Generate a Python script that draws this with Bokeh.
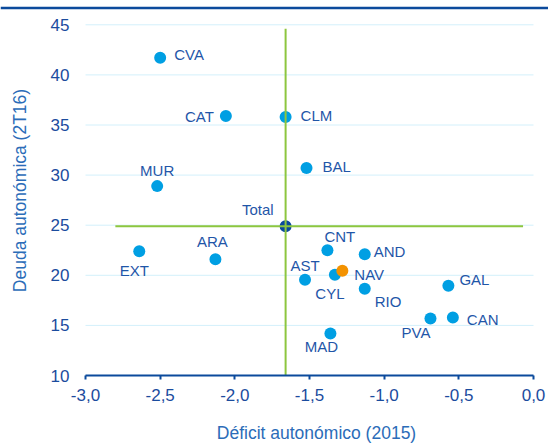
from bokeh.plotting import figure
from bokeh.models import (ColumnDataSource, FixedTicker, CustomJSTickFormatter,
                          Label, Span)
from bokeh.core.properties import value
from bokeh.embed import file_html
from bokeh.resources import INLINE
import math

# ---- data ----
regions = ["CVA", "CAT", "CLM", "BAL", "MUR", "EXT", "ARA", "AST", "MAD",
           "CNT", "AND", "CYL", "RIO", "GAL", "PVA", "CAN"]
deficit = [-2.50, -2.06, -1.66, -1.52, -2.52, -2.64, -2.13, -1.53, -1.36,
           -1.38, -1.13, -1.33, -1.13, -0.57, -0.69, -0.54]
deuda = [41.7, 35.9, 35.8, 30.7, 28.9, 22.4, 21.6, 19.55, 14.2,
         22.5, 22.1, 20.05, 18.65, 18.95, 15.7, 15.8]

nav_label = ["NAV"]
nav_deficit = [-1.28]
nav_deuda = [20.45]

total_label = ["Total"]
total_deficit = [-1.66]
total_deuda = [24.9]

h_line_x = [-2.80, -0.07]
v_line_y = [10.0, 44.6]

x_ticks = [-3.0, -2.5, -2.0, -1.5, -1.0, -0.5, 0.0]
y_ticks = [10, 15, 20, 25, 30, 35, 40, 45]

x_title = "Déficit autonómico (2015)"
y_title = "Deuda autonómica (2T16)"

# ---- layout (pixels) ----
W, H = 548, 444
PLOT_L, PLOT_R, PLOT_T, PLOT_B = 85, 533, 24.3, 375   # where the axes sit
X0, X1 = x_ticks[0], x_ticks[-1]
Y0, Y1 = y_ticks[0], y_ticks[-1]
sx = (PLOT_R - PLOT_L) / (X1 - X0)
sy = (PLOT_B - PLOT_T) / (Y1 - Y0)
x_range = (X0 - PLOT_L / sx, X1 + (W - PLOT_R) / sx)
y_range = (Y0 - (H - PLOT_B) / sy, Y1 + PLOT_T / sy)

def px_to_x(px):
    return X0 + (px - PLOT_L) / sx

def py_to_y(py):
    return Y1 - (py - PLOT_T) / sy

# ---- label placement (styling) ----
label_style = {
    "CVA": (14, -3, "left"), "CAT": (-12, 1, "right"), "CLM": (15, -1.5, "left"),
    "BAL": (16, -2, "left"), "MUR": (0, -16, "center"), "EXT": (-5, 19, "center"),
    "ARA": (-3, -18, "center"), "AST": (0, -14, "center"), "MAD": (-9, 13, "center"),
    "CNT": (-3, -14, "left"), "AND": (9, -3, "left"), "CYL": (-5, 19, "center"),
    "RIO": (10, 13, "left"), "GAL": (11, -6.5, "left"), "PVA": (0, 14, "right"),
    "CAN": (14, 2, "left"), "NAV": (12, 3.5, "left"), "Total": (-12, -17, "right"),
}

FONT = "Liberation Sans"
POINT_BLUE = "#009FE3"
ORANGE = "#F39200"
NAVY = "#0B4A9C"
GREEN = "#8DC63F"
GRID = "#D3F0FB"
LABEL_COLOR = "#1F56A8"
TICK_COLOR = "#1B4C9E"
TITLE_COLOR = "#2B6CB8"

p = figure(width=W, height=H, x_range=x_range, y_range=y_range,
           output_backend="svg", toolbar_location=None, min_border=0)
p.outline_line_color = None
p.background_fill_color = "white"
p.border_fill_color = "white"
p.grid.visible = False

# gridlines along the y ticks, limited to the axis extent
p.segment(x0=X0, x1=X1, y0=y_ticks, y1=y_ticks, line_color=GRID, line_width=1)

# x axis
xa = p.xaxis[0]
xa.fixed_location = Y0
xa.bounds = (X0, X1)
xa.ticker = FixedTicker(ticks=x_ticks)
xa.formatter = CustomJSTickFormatter(code="return tick.toFixed(1).replace('.', ',');")
xa.axis_line_color = NAVY
xa.axis_line_width = 2
xa.major_tick_line_color = NAVY
xa.major_tick_line_width = 2
xa.major_tick_out = 4
xa.major_tick_in = 0
xa.minor_tick_line_color = None
xa.major_label_standoff = 9
xa.major_label_text_font = FONT
xa.major_label_text_font_size = "17px"
xa.major_label_text_color = TICK_COLOR

# y axis
ya = p.yaxis[0]
ya.fixed_location = X0
ya.bounds = (Y0, Y1)
ya.ticker = FixedTicker(ticks=y_ticks)
ya.axis_line_color = None
ya.major_tick_line_color = None
ya.minor_tick_line_color = None
ya.major_tick_out = 0
ya.major_tick_in = 0
ya.major_label_standoff = 16
ya.major_label_text_font = FONT
ya.major_label_text_font_size = "17px"
ya.major_label_text_color = TICK_COLOR

# points
def offsets(names):
    return ([label_style[n][0] for n in names],
            [label_style[n][1] for n in names],
            [label_style[n][2] for n in names])

dx, dy, al = offsets(regions)
src = ColumnDataSource(dict(x=deficit, y=deuda, name=regions, dx=dx, dy=dy, al=al))
p.scatter("x", "y", source=src, size=12, fill_color=POINT_BLUE, line_color=None)

dx, dy, al = offsets(nav_label)
nsrc = ColumnDataSource(dict(x=nav_deficit, y=nav_deuda, name=nav_label, dx=dx, dy=dy, al=al))
p.scatter("x", "y", source=nsrc, size=12, fill_color=ORANGE, line_color=None)

dx, dy, al = offsets(total_label)
tsrc = ColumnDataSource(dict(x=total_deficit, y=total_deuda, name=total_label, dx=dx, dy=dy, al=al))
p.scatter("x", "y", source=tsrc, size=12, fill_color=NAVY, line_color=None)

# green cross lines through Total
p.line(x=h_line_x, y=[total_deuda[0]] * 2, line_color=GREEN, line_width=2)
p.line(x=[total_deficit[0]] * 2, y=v_line_y, line_color=GREEN, line_width=2)

for s in (src, nsrc, tsrc):
    p.text("x", "y", text="name", source=s, x_offset="dx", y_offset="dy",
           text_align="al", text_baseline="middle",
           text_font=value(FONT), text_font_size="15px", text_color=LABEL_COLOR)

# axis titles
p.add_layout(Label(x=px_to_x(316), y=py_to_y(432), text=x_title,
                   text_align="center", text_baseline="middle", text_font=FONT,
                   text_font_size="17.5px", text_color=TITLE_COLOR))
p.add_layout(Label(x=px_to_x(19), y=py_to_y(190), text=y_title, angle=math.pi / 2,
                   text_align="center", text_baseline="middle", text_font=FONT,
                   text_font_size="17.5px", text_color=TITLE_COLOR))

# top rule across the whole chart
p.add_layout(Span(location=py_to_y(7.5), dimension="width",
                  line_color=NAVY, line_width=2.5))

open("out.html", "w").write(file_html(p, INLINE))
